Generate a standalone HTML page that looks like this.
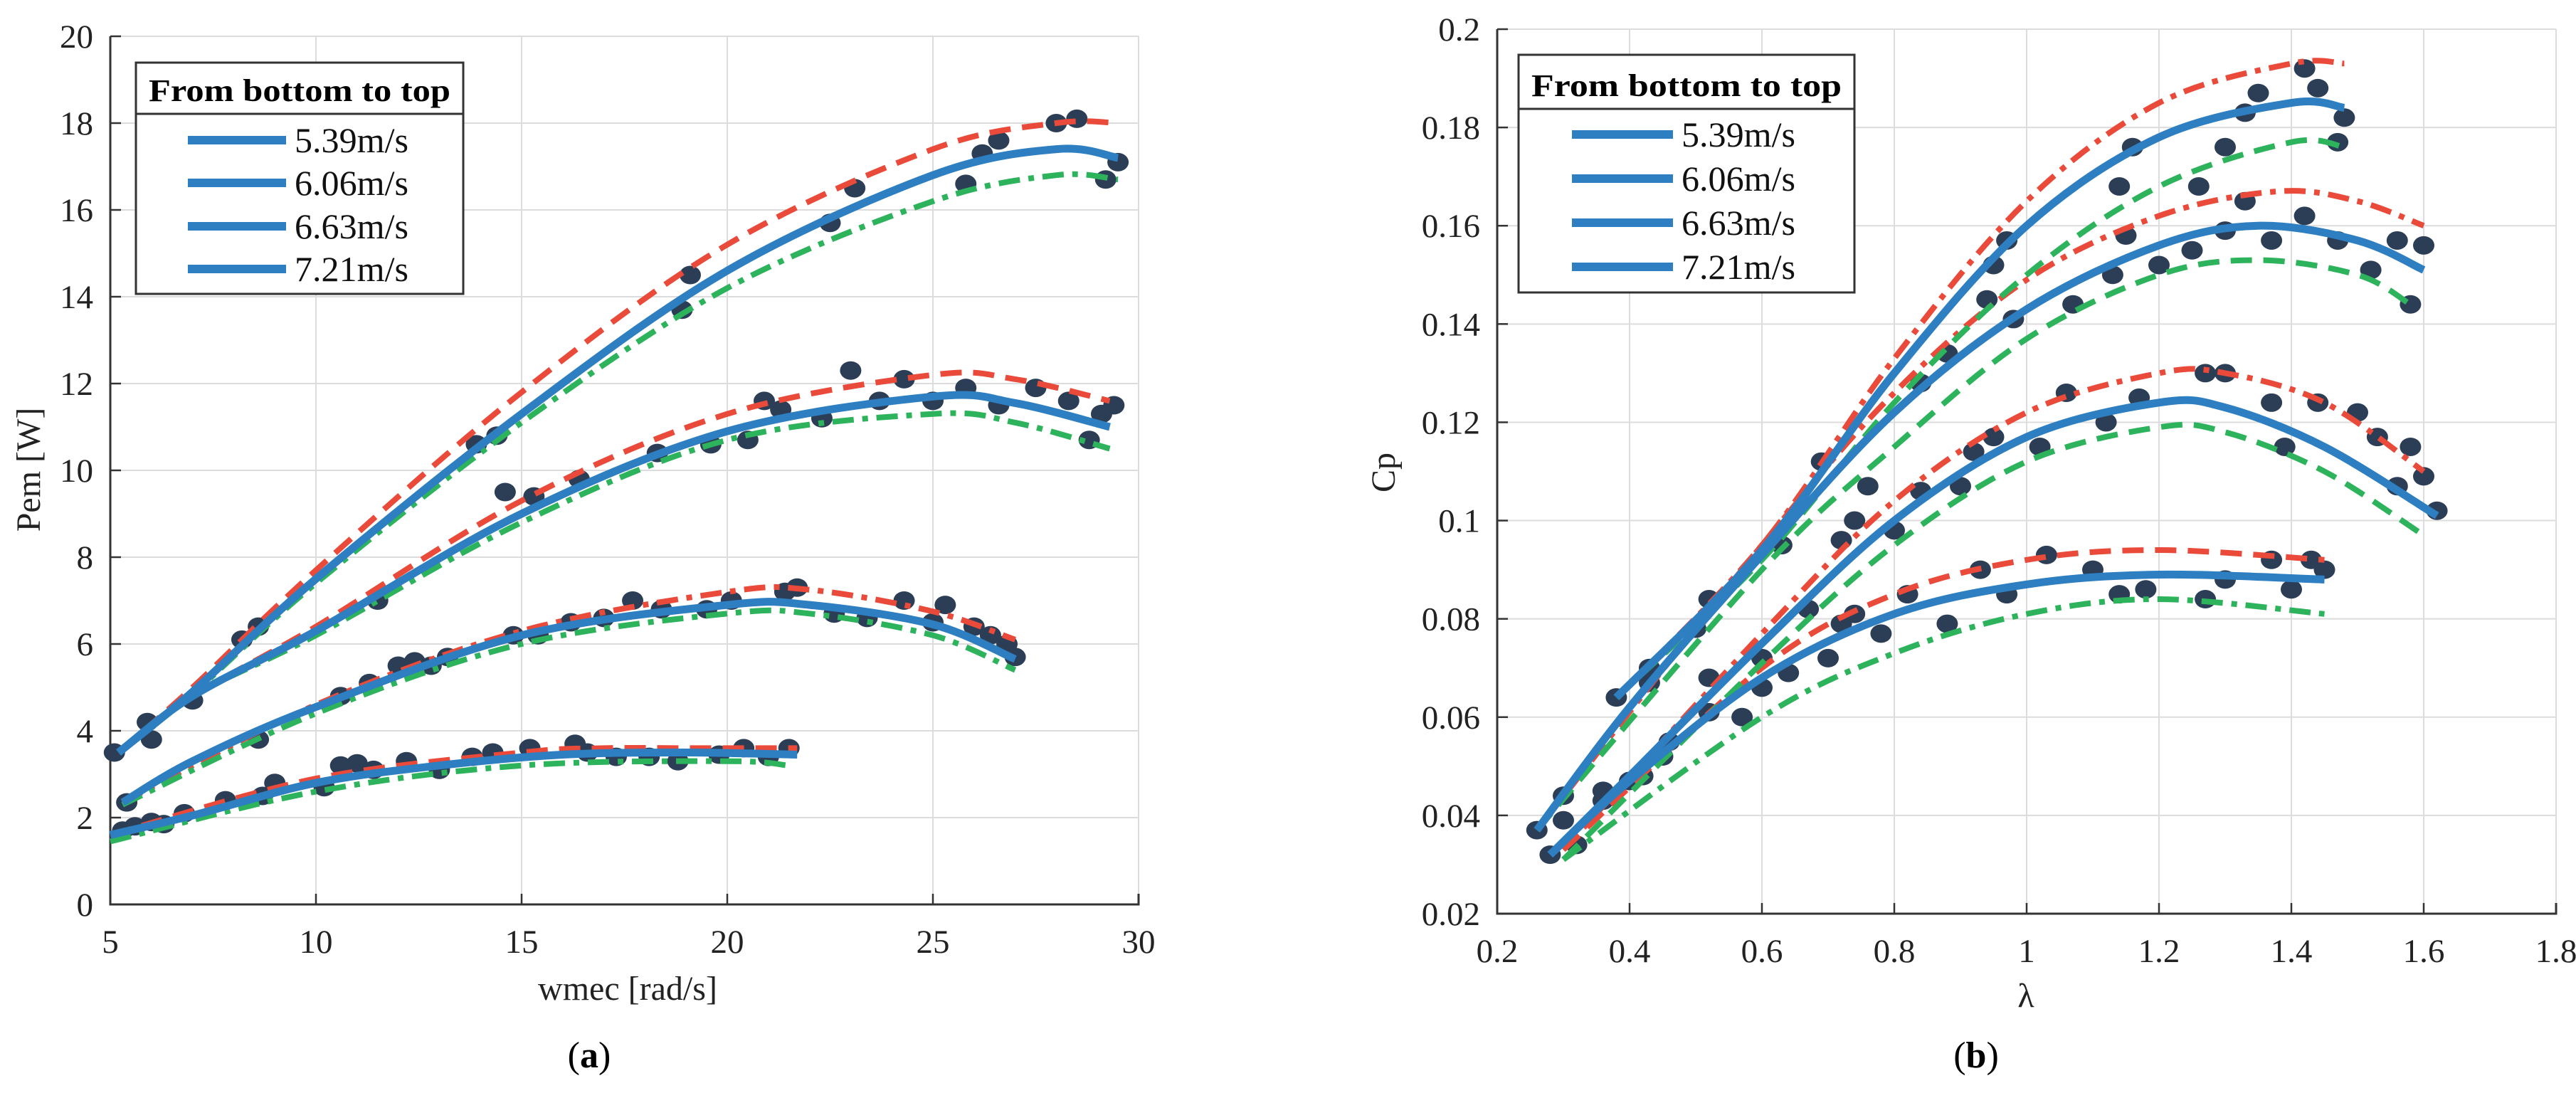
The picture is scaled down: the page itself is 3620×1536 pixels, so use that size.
<!DOCTYPE html>
<html><head><meta charset="utf-8"><style>
html,body{margin:0;padding:0;background:#fff;}
svg{display:block;font-family:"Liberation Serif",serif;}
</style></head><body>
<svg id="root" width="3620" height="1536" viewBox="0 0 3620 1536" xmlns="http://www.w3.org/2000/svg">
<g id="chartA"></g>
<g id="chartB"></g>
</svg>
<script>
// ---------- Chart (a) data ----------
const aXTicks = [5,10,15,20,25,30];
const aYTicks = [0,2,4,6,8,10,12,14,16,18,20];
const aSeriesNames = ["5.39m/s","6.06m/s","6.63m/s","7.21m/s"];
// blue fits
const aBlue1x = [5,7,10,13,16,19,21.7];        const aBlue1y = [1.6,2.05,2.8,3.2,3.45,3.5,3.45];
const aBlue2x = [5.3,7,10,15,20,22,25,27];     const aBlue2y = [2.35,3.3,4.55,6.2,6.9,6.9,6.45,5.65];
const aBlue3x = [5.2,7,10,15,20,25,27,29.3];   const aBlue3y = [3.5,4.8,6.3,9.0,10.9,11.7,11.55,11.0];
const aBlue4x = [5.2,7,10,15,20,25,28,29.5];   const aBlue4y = [3.5,4.9,7.5,11.3,14.6,16.8,17.4,17.2];
// red dashed
const aRed1x = [5,10,15,17,19,21.7];           const aRed1y = [1.6,2.9,3.5,3.6,3.6,3.6];
const aRed2x = [5.3,10,15,20,22,25,27];        const aRed2y = [2.35,4.6,6.3,7.2,7.25,6.75,6.1];
const aRed3x = [5.2,7,10,15,20,25,27,29.3];    const aRed3y = [3.5,4.8,6.4,9.3,11.3,12.2,12.1,11.6];
const aRed4x = [5.2,7,10,15,20,25,28,29.5];    const aRed4y = [3.5,5.0,7.7,11.8,15.2,17.4,18.0,18.0];
// green dash-dot
const aGreen1x = [5,10,15,20,21.5];            const aGreen1y = [1.45,2.6,3.2,3.3,3.2];
const aGreen2x = [5.3,10,15,20,22,25,27];      const aGreen2y = [2.3,4.4,6.0,6.7,6.7,6.2,5.4];
const aGreen3x = [5.2,7,10,15,20,25,27,29.3];  const aGreen3y = [3.5,4.8,6.2,8.8,10.7,11.3,11.1,10.5];
const aGreen4x = [5.2,7,10,15,20,25,28,29.5];  const aGreen4y = [3.5,4.85,7.4,11.1,14.2,16.2,16.8,16.7];
// measured points
const aPtsX = [5.3,5.6,6.0,6.3,6.8,7.8,8.7,9.0,10.2,10.6,11.0,11.4,12.2,13.0,13.8,14.3,15.2,16.3,16.6,17.3,18.1,18.8,19.8,20.4,21.0,21.5,
 5.4,8.6,10.6,11.3,12.0,12.4,12.8,13.2,14.8,15.4,16.2,17.0,17.7,18.4,19.5,20.1,21.4,21.7,22.6,23.4,24.3,25.0,25.3,26.0,26.4,26.8,27.0,
 11.5,14.6,15.3,16.4,18.3,19.6,20.5,20.9,21.3,22.3,23.0,23.7,24.3,25.0,25.8,26.6,27.5,28.3,28.8,29.1,29.4,
 5.1,5.9,6.0,7.0,8.2,8.6,13.9,14.4,18.9,19.1,22.5,23.1,25.8,26.2,26.6,28.0,28.5,29.2,29.5];
const aPtsY = [1.7,1.8,1.9,1.85,2.1,2.4,2.5,2.8,2.7,3.2,3.25,3.1,3.3,3.1,3.4,3.5,3.6,3.7,3.5,3.4,3.4,3.3,3.45,3.6,3.4,3.6,
 2.35,3.8,4.8,5.1,5.5,5.6,5.5,5.7,6.2,6.2,6.5,6.6,7.0,6.8,6.8,7.0,7.2,7.3,6.7,6.6,7.0,6.5,6.9,6.4,6.2,6.0,5.7,
 7.0,9.5,9.4,9.8,10.4,10.6,10.7,11.6,11.4,11.2,12.3,11.6,12.1,11.6,11.9,11.5,11.9,11.6,10.7,11.3,11.5,
 3.5,4.2,3.8,4.7,6.1,6.4,10.6,10.8,13.7,14.5,15.7,16.5,16.6,17.3,17.6,18.0,18.1,16.7,17.1];

// ---------- Chart (b) data ----------
const bXTicks = [0.2,0.4,0.6,0.8,1,1.2,1.4,1.6,1.8];
const bYTicks = [0.02,0.04,0.06,0.08,0.1,0.12,0.14,0.16,0.18,0.2];
const bSeriesNames = ["5.39m/s","6.06m/s","6.63m/s","7.21m/s"];
const bBlue1x = [0.28,0.4,0.6,0.8,1.0,1.2,1.45];           const bBlue1y = [0.032,0.047,0.068,0.081,0.087,0.089,0.088];
const bBlue2x = [0.28,0.4,0.6,0.8,1.0,1.2,1.3,1.45,1.62];  const bBlue2y = [0.032,0.048,0.075,0.1,0.117,0.124,0.123,0.115,0.101];
const bBlue3x = [0.26,0.4,0.6,0.8,1.0,1.2,1.35,1.5,1.6];   const bBlue3y = [0.037,0.062,0.093,0.122,0.143,0.156,0.16,0.157,0.151];
const bBlue4x = [0.38,0.6,0.8,1.0,1.2,1.4,1.48];           const bBlue4y = [0.064,0.094,0.13,0.16,0.178,0.185,0.184];
const bRed1x = [0.3,0.6,0.8,1.0,1.2,1.45];                 const bRed1y = [0.033,0.07,0.085,0.092,0.094,0.092];
const bRed2x = [0.3,0.6,0.8,1.0,1.2,1.3,1.45,1.6];         const bRed2y = [0.033,0.077,0.104,0.122,0.13,0.13,0.124,0.11];
const bRed3x = [0.26,0.6,0.8,1.0,1.2,1.38,1.5,1.6];        const bRed3y = [0.037,0.095,0.126,0.149,0.162,0.167,0.165,0.16];
const bRed4x = [0.38,0.6,0.8,1.0,1.2,1.4,1.48];            const bRed4y = [0.064,0.095,0.133,0.165,0.185,0.193,0.193];
const bGreen1x = [0.3,0.6,0.8,1.0,1.2,1.45];               const bGreen1y = [0.031,0.06,0.073,0.081,0.084,0.081];
const bGreen2x = [0.3,0.6,0.8,1.0,1.2,1.3,1.45,1.6];       const bGreen2y = [0.031,0.071,0.095,0.112,0.119,0.118,0.11,0.097];
const bGreen3x = [0.26,0.6,0.8,1.0,1.2,1.35,1.5,1.58];     const bGreen3y = [0.037,0.09,0.115,0.137,0.15,0.153,0.15,0.144];
const bGreen4x = [0.38,0.6,0.8,1.0,1.2,1.4,1.48];          const bGreen4y = [0.064,0.092,0.124,0.15,0.168,0.177,0.176];
const bPtsX = [0.28,0.3,0.32,0.36,0.42,0.45,0.52,0.57,0.6,0.64,0.7,0.72,0.74,0.78,0.82,0.88,0.93,0.97,1.03,1.1,1.14,1.18,1.27,1.3,1.37,1.4,1.43,1.45,
 0.3,0.4,0.46,0.52,0.6,0.67,0.72,0.74,0.8,0.84,0.9,0.92,0.95,1.02,1.06,1.12,1.17,1.27,1.3,1.37,1.39,1.44,1.5,1.53,1.56,1.58,1.6,1.62,
 0.26,0.36,0.43,0.5,0.63,0.69,0.76,0.84,0.88,0.94,0.98,1.07,1.13,1.15,1.2,1.25,1.3,1.33,1.37,1.42,1.47,1.52,1.56,1.58,1.6,
 0.38,0.43,0.52,0.95,0.97,1.14,1.16,1.26,1.3,1.33,1.35,1.42,1.44,1.47,1.48];
const bPtsY = [0.032,0.044,0.034,0.045,0.048,0.052,0.061,0.06,0.066,0.069,0.072,0.079,0.081,0.077,0.085,0.079,0.09,0.085,0.093,0.09,0.085,0.086,0.084,0.088,0.092,0.086,0.092,0.09,
 0.039,0.047,0.055,0.068,0.072,0.082,0.096,0.1,0.098,0.106,0.107,0.114,0.117,0.115,0.126,0.12,0.125,0.13,0.13,0.124,0.115,0.124,0.122,0.117,0.107,0.115,0.109,0.102,
 0.037,0.043,0.067,0.078,0.095,0.112,0.107,0.128,0.134,0.145,0.141,0.144,0.15,0.158,0.152,0.155,0.159,0.165,0.157,0.162,0.157,0.151,0.157,0.144,0.156,
 0.064,0.07,0.084,0.152,0.157,0.168,0.176,0.168,0.176,0.183,0.187,0.192,0.188,0.177,0.182];

const NS = "http://www.w3.org/2000/svg";
const BLUE="#2d7fc1", RED="#ea4a3a", GREEN="#2db35c", DOT="#2c3e56";

function mk(parent, tag, attrs){ const e=document.createElementNS(NS,tag); for(const k in attrs) e.setAttribute(k,attrs[k]); parent.appendChild(e); return e; }
function smoothPath(pts){
  let d="M"+pts[0][0].toFixed(1)+","+pts[0][1].toFixed(1);
  for(let i=0;i<pts.length-1;i++){
    const p0=pts[i-1]||pts[i], p1=pts[i], p2=pts[i+1], p3=pts[i+2]||p2;
    const c1=[p1[0]+(p2[0]-p0[0])/6, p1[1]+(p2[1]-p0[1])/6];
    const c2=[p2[0]-(p3[0]-p1[0])/6, p2[1]-(p3[1]-p1[1])/6];
    d+=" C"+c1[0].toFixed(1)+","+c1[1].toFixed(1)+" "+c2[0].toFixed(1)+","+c2[1].toFixed(1)+" "+p2[0].toFixed(1)+","+p2[1].toFixed(1);
  }
  return d;
}

function drawChart(g, cfg){
  const X=v=>cfg.x0+(v-cfg.xmin)/(cfg.xmax-cfg.xmin)*(cfg.x1-cfg.x0);
  const Y=v=>cfg.y0-(v-cfg.ymin)/(cfg.ymax-cfg.ymin)*(cfg.y0-cfg.y1);
  cfg.xt.forEach(t=>{
    const l=mk(g,"line",{x1:X(t),x2:X(t),y1:cfg.y1,y2:cfg.y0,stroke:"#dcdcdc","stroke-width":2});
    
    
    const tk=mk(g,"line",{x1:X(t),x2:X(t),y1:cfg.y0,y2:cfg.y0-15,stroke:"#333","stroke-width":2.5});
    
    
    const tx=mk(g,"text",{x:X(t),y:cfg.y0+68,"text-anchor":"middle","font-size":47,fill:"#222"});
    tx.textContent=String(t);
    
    
  });
  cfg.yt.forEach(t=>{
    const l=mk(g,"line",{x1:cfg.x0,x2:cfg.x1,y1:Y(t),y2:Y(t),stroke:"#dcdcdc","stroke-width":2});
    
    
    const tk=mk(g,"line",{x1:cfg.x0,x2:cfg.x0+15,y1:Y(t),y2:Y(t),stroke:"#333","stroke-width":2.5});
    
    
    const tx=mk(g,"text",{x:cfg.x0-24,y:Y(t)+16,"text-anchor":"end","font-size":47,fill:"#222"});
    tx.textContent=String(t);
    
    
  });
  const ax=mk(g,"path",{d:`M${cfg.x0},${cfg.y1} V${cfg.y0} H${cfg.x1} V${cfg.y0-15}`,fill:"none",stroke:"#333","stroke-width":3});
  
  
  cfg.px.forEach((v,i)=>{
    const c=mk(g,"ellipse",{cx:X(v),cy:Y(cfg.py[i]),rx:15,ry:13,fill:DOT});
    
    
  });
  cfg.series.forEach(s=>{
    const pts=s.x.map((v,i)=>[X(v),Y(s.y[i])]);
    const p=mk(g,"path",{d:smoothPath(pts),fill:"none",stroke:s.c,"stroke-width":s.w,"stroke-dasharray":s.dash||"none","stroke-linecap":"butt"});
    
    
  });
  const xl=mk(g,"text",{x:cfg.xlx,y:cfg.xly,"text-anchor":"middle","font-size":48,fill:"#222"});
  xl.textContent=cfg.xlabel;
  
  
  const yl=mk(g,"text",{x:0,y:0,"text-anchor":"middle","font-size":48,fill:"#222",transform:`translate(${cfg.ylx},${cfg.yly}) rotate(-90)`});
  yl.textContent=cfg.ylabel;
  
  
  const cap=mk(g,"text",{x:cfg.capx,y:1500,"text-anchor":"middle","font-size":52,fill:"#000"});
  cap.innerHTML='(<tspan font-weight="bold">'+cfg.cap+'</tspan>)';
  
  
  const L=cfg.leg;
  const lb=mk(g,"rect",{x:L.x0,y:L.y0,width:L.x1-L.x0,height:L.y1-L.y0,fill:"#fff",stroke:"#333","stroke-width":3});
  
  
  const ld=mk(g,"line",{x1:L.x0,x2:L.x1,y1:L.div,y2:L.div,stroke:"#333","stroke-width":3});
  
  
  const lt=mk(g,"text",{x:(L.x0+L.x1)/2,y:L.div-18,"text-anchor":"middle","font-size":44,"font-weight":"bold",fill:"#000",textLength:L.x1-L.x0-36,lengthAdjust:"spacingAndGlyphs"});
  lt.textContent="From bottom to top";
  
  
  cfg.names.forEach((n,i)=>{
    const yy=L.rows[i];
    const ll=mk(g,"line",{x1:L.lx0,x2:L.lx1,y1:yy,y2:yy,stroke:BLUE,"stroke-width":12});
    
    
    const tt=mk(g,"text",{x:L.lx1+12,y:yy+17,"font-size":50,fill:"#111",textLength:160,lengthAdjust:"spacingAndGlyphs"});
    tt.textContent=n;
    
    
  });
}

function S(x,y,c,w,dash,name){return {x,y,c,w,dash,name};}
const DASH="30 16", DASHDOT="30 12 8 12";

drawChart(document.getElementById("chartA"),{
  x0:155,x1:1600,y0:1271,y1:51,xmin:5,xmax:30,ymin:0,ymax:20,xt:aXTicks,yt:aYTicks,
  px:aPtsX,py:aPtsY,names:aSeriesNames,
  series:[
    S(aRed1x,aRed1y,RED,8,DASH,"red-fit-1"),S(aRed2x,aRed2y,RED,8,DASHDOT,"red-fit-2"),S(aRed3x,aRed3y,RED,8,DASH,"red-fit-3"),S(aRed4x,aRed4y,RED,8,DASH,"red-fit-4"),
    S(aGreen1x,aGreen1y,GREEN,8,DASHDOT,"green-fit-1"),S(aGreen2x,aGreen2y,GREEN,8,DASHDOT,"green-fit-2"),S(aGreen3x,aGreen3y,GREEN,8,DASHDOT,"green-fit-3"),S(aGreen4x,aGreen4y,GREEN,8,DASHDOT,"green-fit-4"),
    S(aBlue1x,aBlue1y,BLUE,11,null,"blue-fit-1"),S(aBlue2x,aBlue2y,BLUE,11,null,"blue-fit-2"),S(aBlue3x,aBlue3y,BLUE,11,null,"blue-fit-3"),S(aBlue4x,aBlue4y,BLUE,11,null,"blue-fit-4")
  ],
  xlabel:"wmec [rad/s]",xlx:882,xly:1405,ylabel:"Pem [W]",ylx:56,yly:660,cap:"a",capx:828,
  leg:{x0:191,x1:651,y0:88,y1:413,div:160,lx0:264,lx1:402,rows:[197,257,318,378]}
});
drawChart(document.getElementById("chartB"),{
  x0:2104,x1:3592,y0:1284,y1:41,xmin:0.2,xmax:1.8,ymin:0.02,ymax:0.2,xt:bXTicks,yt:bYTicks,
  px:bPtsX,py:bPtsY,names:bSeriesNames,
  series:[
    S(bRed1x,bRed1y,RED,8,DASH,"red-fit-1"),S(bRed2x,bRed2y,RED,8,DASHDOT,"red-fit-2"),S(bRed3x,bRed3y,RED,8,DASHDOT,"red-fit-3"),S(bRed4x,bRed4y,RED,8,DASHDOT,"red-fit-4"),
    S(bGreen1x,bGreen1y,GREEN,8,DASHDOT,"green-fit-1"),S(bGreen2x,bGreen2y,GREEN,8,DASH,"green-fit-2"),S(bGreen3x,bGreen3y,GREEN,8,DASH,"green-fit-3"),S(bGreen4x,bGreen4y,GREEN,8,DASH,"green-fit-4"),
    S(bBlue1x,bBlue1y,BLUE,11,null,"blue-fit-1"),S(bBlue2x,bBlue2y,BLUE,11,null,"blue-fit-2"),S(bBlue3x,bBlue3y,BLUE,11,null,"blue-fit-3"),S(bBlue4x,bBlue4y,BLUE,11,null,"blue-fit-4")
  ],
  xlabel:"λ",xlx:2847,xly:1415,ylabel:"Cp",ylx:1960,yly:664,cap:"b",capx:2777,
  leg:{x0:2134,x1:2606,y0:77,y1:411,div:153,lx0:2209,lx1:2351,rows:[189,251,313,375]}
});
</script>
</body></html>
